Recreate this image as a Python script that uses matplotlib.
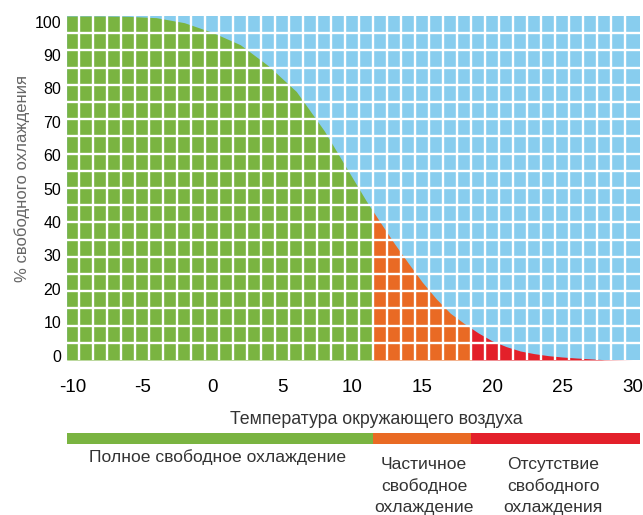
import numpy as np
import matplotlib.pyplot as plt

plt.rcParams['font.family'] = ['Liberation Sans', 'DejaVu Sans']

# curve (temperature, % free cooling)
temp = [-10, -8, -6, -4, -2, 0, 2, 4, 6, 8, 10, 11, 12, 13, 14, 15,
        16, 17, 18, 19, 20, 21, 22, 23, 24, 25, 26, 28, 30]
share = [101.7, 101.7, 101.6, 101.2, 99.7, 96.8, 93.1, 86.8, 79.1, 67.3, 53.3, 46.3,
         39.9, 33.6, 27.7, 22.0, 17.0, 12.7, 9.6, 6.8, 4.4, 2.7, 1.4, 0.6, 0.0,
         -0.4, -0.7, -1.2, -1.3]

zone_edges = [-10.4, 11.5, 18.5, 30.55]
zone_colors = ['#7ab441', '#e96a24', '#e3202a']
zone_names = ['Полное свободное охлаждение',
              'Частичное\nсвободное\nохлаждение',
              'Отсутствие\nсвободного\nохлаждения']

xticks = [-10, -5, 0, 5, 10, 15, 20, 25, 30]
yticks = [0, 10, 20, 30, 40, 50, 60, 70, 80, 90, 100]

sky = '#88cdee'
ylo, yhi = -1.3, 101.7

W, H = 643, 515
fig = plt.figure(figsize=(W / 100, H / 100), dpi=100)
ax = fig.add_axes([66.7 / W, 1 - 360 / H, (640 - 66.7) / W, (360 - 16) / H])
ax.set_facecolor(sky)

x = np.array(temp, float)
y = np.array(share, float)
for lo, hi, c in zip(zone_edges[:-1], zone_edges[1:], zone_colors):
    xs = np.concatenate([[lo], x[(x > lo) & (x < hi)], [hi]])
    ys = np.interp(xs, x, y)
    ax.fill_between(xs, ylo, ys, color=c, lw=0)

ax.set_xlim(zone_edges[0], zone_edges[-1])
ax.set_ylim(ylo, yhi)

# white tile grid
for gx in np.arange(-9.5, 30, 1.0):
    ax.axvline(gx, color='white', lw=1.7)
for k in range(1, 20):
    ax.axhline(ylo + k * (yhi - ylo) / 20, color='white', lw=1.7)

for s in ax.spines.values():
    s.set_visible(False)
ax.set_xticks(xticks)
ax.set_xticklabels([str(t) for t in xticks], fontsize=13.5)
ax.set_yticks(yticks)
ax.set_yticklabels([str(t) for t in yticks], fontsize=11.5)
ax.tick_params(length=0, pad=4)
ax.tick_params(axis='x', pad=14)
fig.text(21.7 / W, 1 - 178 / H, '% свободного охлаждения', rotation=90,
         ha='center', va='center', fontsize=12, color='#666666')

# zone bar
bx = fig.add_axes([66.7 / W, 1 - 444 / H, (640 - 66.7) / W, 11 / H])
for lo, hi, c in zip(zone_edges[:-1], zone_edges[1:], zone_colors):
    bx.axvspan(lo, hi, color=c, lw=0)
bx.set_xlim(zone_edges[0], zone_edges[-1])
bx.axis('off')

fig.text(376 / W, 1 - 420 / H, 'Температура окружающего воздуха',
         ha='center', va='center', fontsize=12.8, color='#333333')
label_x = [218, 424, 553]
label_y = [457, 486, 486]
for name, lx, ly in zip(zone_names, label_x, label_y):
    fig.text(lx / W, 1 - ly / H, name, ha='center', va='center',
             fontsize=12.6, color='#333333', linespacing=1.5)

fig.savefig('out.png', dpi=100)
